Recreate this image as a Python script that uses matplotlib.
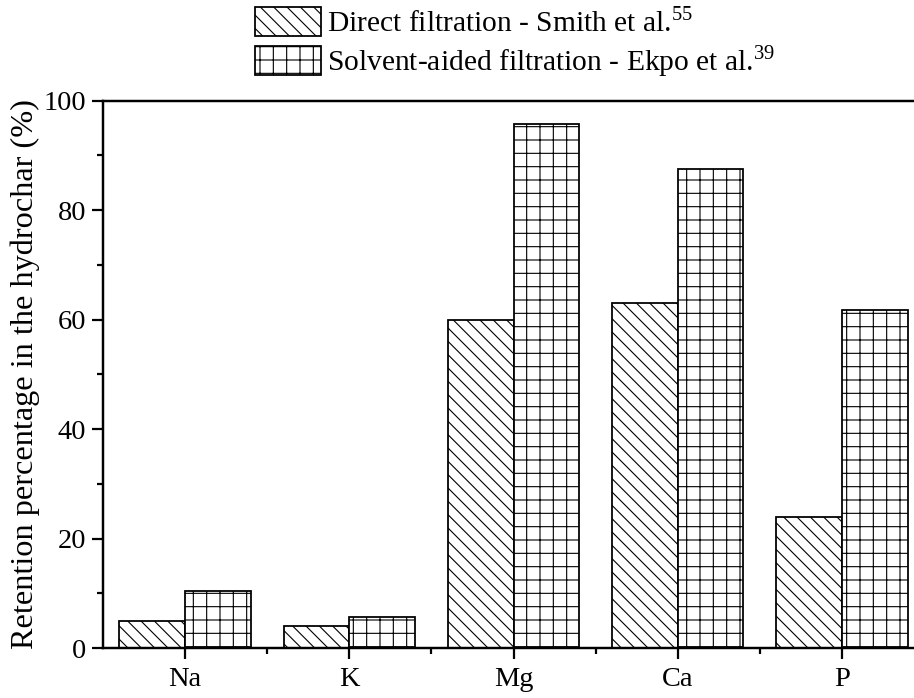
import numpy as np
import matplotlib
matplotlib.use('Agg')
import matplotlib.pyplot as plt
from matplotlib.ticker import MultipleLocator, FixedLocator

elements = ['Na', 'K', 'Mg', 'Ca', 'P']
direct = [5, 4, 60, 63, 24]
solvent = [10.5, 5.7, 95.7, 87.6, 61.8]
labels = [r'Direct filtration - Smith et al.$^{\mathregular{55}}$',
          r'Solvent-aided filtration - Ekpo et al.$^{\mathregular{39}}$']
ylabel = 'Retention percentage in the hydrochar (%)'

plt.rcParams['font.family'] = 'Liberation Serif'
plt.rcParams['mathtext.fontset'] = 'custom'
plt.rcParams['mathtext.rm'] = 'Liberation Serif'
plt.rcParams['hatch.linewidth'] = 1.0

DPI = 80
fig = plt.figure(figsize=(914 / DPI, 698 / DPI), dpi=DPI)
ax = fig.add_axes([103 / 914, 1 - 648 / 698, 821 / 914, (648 - 100.7) / 698])

x = np.arange(len(elements))
w = 0.4
b1 = ax.bar(x - w / 2, direct, w, facecolor='white', edgecolor='black',
            linewidth=1.6, hatch='\\\\', label=labels[0])
b2 = ax.bar(x + w / 2, solvent, w, facecolor='white', edgecolor='black',
            linewidth=1.6, hatch='+', label=labels[1])

ax.set_xlim(-0.5, len(elements) - 0.5)
ax.set_ylim(0, 100)
ax.set_xticks(x)
ax.set_xticklabels(elements)
ax.xaxis.set_minor_locator(FixedLocator(x[:-1] + 0.5))
ax.yaxis.set_major_locator(MultipleLocator(20))
ax.yaxis.set_minor_locator(MultipleLocator(10))

ax.tick_params(which='major', direction='out', length=10, width=2, labelsize=25.5, pad=5)
ax.tick_params(which='minor', direction='out', length=5, width=2)
ax.tick_params(axis='x', which='major', pad=7)

for s in ['left', 'bottom', 'top', 'right']:
    ax.spines[s].set_linewidth(2.2)

ax.set_ylabel(ylabel, fontsize=29, labelpad=3)

fig.legend(handles=[b1, b2], loc='upper left', bbox_to_anchor=(255 / 914, 1 - 7 / 698),
           frameon=False, fontsize=26.5, handlelength=2.24, handleheight=1.12,
           handletextpad=0.2, labelspacing=0.2, borderpad=0, borderaxespad=0)

fig.savefig('out.png', dpi=DPI)
